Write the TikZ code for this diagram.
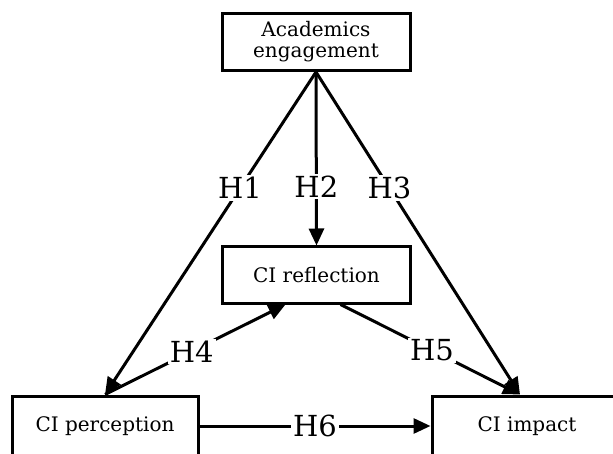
\documentclass[tikz,border=0pt]{standalone}
\usepackage{fontspec}
\setmainfont{DejaVu Serif}
\usetikzlibrary{positioning,arrows.meta}

\begin{document}
\begin{tikzpicture}[x=1pt, y=1pt,
    box/.style={draw, line width=3pt, minimum width=188pt, minimum height=57pt, align=center, font=\fontsize{20}{21}\selectfont},
    hyp/.style={fill=white, inner sep=2pt, font=\fontsize{29}{31}\selectfont},
    arr/.style={line width=3pt, -{Triangle[length=17pt,width=15pt]}} ]

    \useasboundingbox (0,0) rectangle (613,453);

    \node[box] (eng) at (316,411) {Academics\\engagement};
    \node[box, minimum height=56pt] (refl) at (316.5,178) {CI reflection};
    \node[box, minimum width=186pt, minimum height=60pt] (perc) at (105,27) {CI perception};
    \node[box, minimum width=190pt, minimum height=60pt] (imp) at (527,27) {CI impact};

    \draw[arr] (eng.south) -- node[hyp, pos=0.36] {H1} (perc.north);
    \draw[arr] (eng.south) -- node[hyp, pos=0.66] {H2} (refl.north);
    \draw[arr] (eng.south) -- node[hyp, pos=0.36] {H3} ([xshift=-7pt]imp.north);

    \draw[arr] (perc.north) -- node[hyp, pos=0.48] {H4} ([xshift=-31pt]refl.south);
    \draw[arr] ([xshift=24pt]refl.south) -- node[hyp, pos=0.51] {H5} ([xshift=-7pt]imp.north);
    \draw[arr] (perc.east) -- node[hyp] {H6} (imp.west);

\end{tikzpicture}
\end{document}
